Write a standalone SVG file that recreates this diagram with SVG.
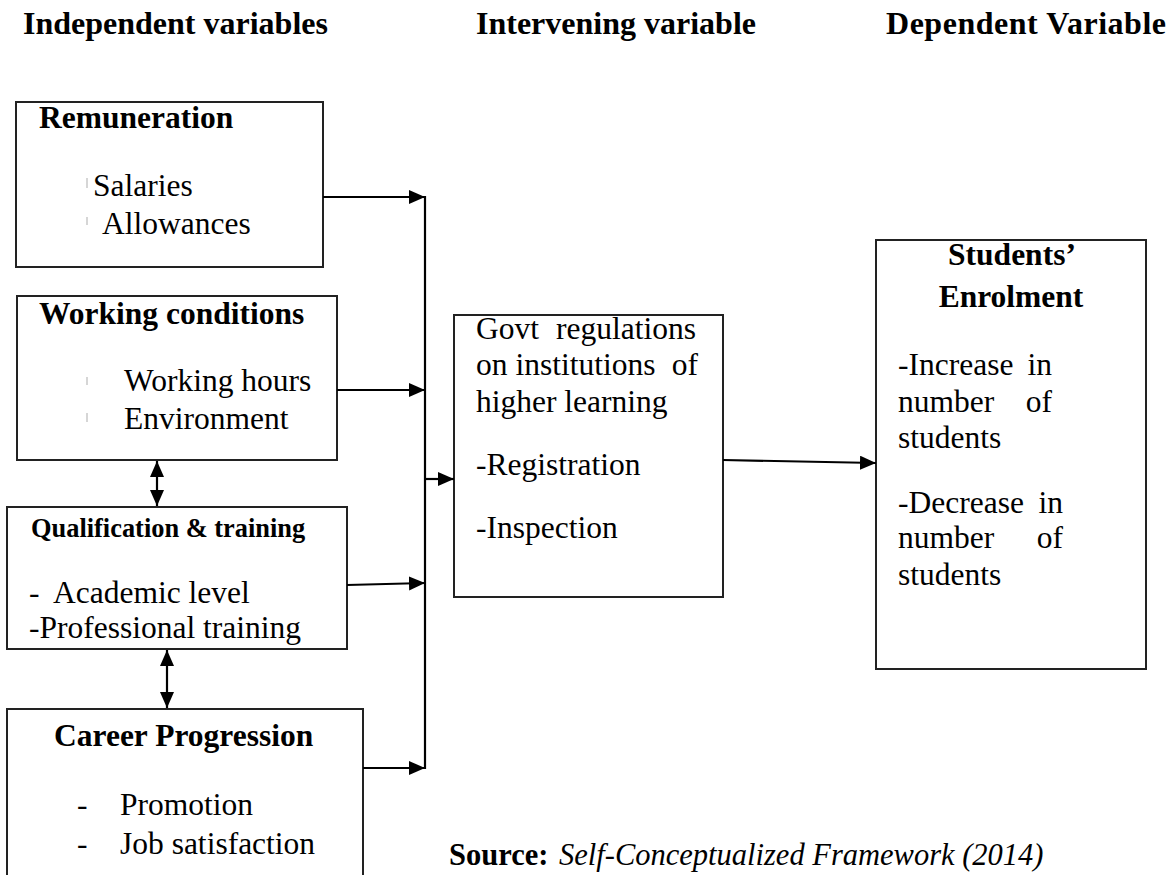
<svg xmlns="http://www.w3.org/2000/svg" width="1173" height="875" viewBox="0 0 1173 875">
<style>
text{font-family:"Liberation Serif","Times New Roman",serif;fill:#000;font-size:31.5px}
.b{font-weight:bold}
.h{font-weight:bold;font-size:32px}
.i{font-style:italic}
.box{fill:#fff;stroke:#222;stroke-width:2}
.c{stroke:#000;stroke-width:2.2;fill:none}
.tick{stroke:#c8c8c8;stroke-width:1.5}
</style>
<defs>
<marker id="ah" markerUnits="userSpaceOnUse" markerWidth="18" markerHeight="16" refX="16" refY="7" orient="auto-start-reverse">
<path d="M0,0 L16,7 L0,14 z" fill="#000"/>
</marker>
</defs>
<g id="headers">
<text class="h" x="23" y="34">Independent variables</text>
<text class="h" x="476" y="34">Intervening variable</text>
<text class="h" x="886" y="34" textLength="280">Dependent Variable</text>
</g>
<g id="remuneration">
<rect class="box" x="16" y="102" width="307" height="165"/>
<text class="b" x="39" y="128">Remuneration</text>
<line class="tick" x1="87" y1="178" x2="87" y2="188"/>
<line class="tick" x1="87" y1="217" x2="87" y2="225"/>
<text x="93" y="196">Salaries</text>
<text x="102" y="234">Allowances</text>
</g>
<g id="working-conditions">
<rect class="box" x="17" y="296" width="320" height="164"/>
<text class="b" x="39" y="324">Working conditions</text>
<line class="tick" x1="87" y1="377" x2="87" y2="385"/>
<line class="tick" x1="87" y1="413" x2="87" y2="422"/>
<text x="124" y="391">Working hours</text>
<text x="124" y="429">Environment</text>
</g>
<g id="qualification">
<rect class="box" x="7" y="507" width="340" height="142"/>
<text class="b" x="31" y="537" style="font-size:26.4px">Qualification &amp; training</text>
<text x="29" y="603">-</text>
<text x="53" y="603">Academic level</text>
<text x="29" y="638">-Professional training</text>
</g>
<g id="career">
<rect class="box" x="7" y="709" width="356" height="180"/>
<text class="b" x="54" y="746">Career Progression</text>
<text x="77" y="815">-</text>
<text x="120" y="815">Promotion</text>
<text x="77" y="854">-</text>
<text x="120" y="854">Job satisfaction</text>
</g>
<g id="govt">
<rect class="box" x="454" y="315" width="269" height="282"/>
<text x="476" y="339">Govt</text>
<text x="696" y="339" text-anchor="end">regulations</text>
<text x="476" y="375">on institutions</text>
<text x="698" y="375" text-anchor="end">of</text>
<text x="476" y="412">higher learning</text>
<text x="476" y="475">-Registration</text>
<text x="476" y="538">-Inspection</text>
</g>
<g id="enrolment">
<rect class="box" x="876" y="240" width="270" height="429"/>
<text class="b" x="1012" y="265" text-anchor="middle">Students’</text>
<text class="b" x="1011" y="307" text-anchor="middle">Enrolment</text>
<text x="898" y="375">-Increase</text>
<text x="1052" y="375" text-anchor="end">in</text>
<text x="898" y="412">number</text>
<text x="1052" y="412" text-anchor="end">of</text>
<text x="898" y="448">students</text>
<text x="898" y="513">-Decrease</text>
<text x="1063" y="513" text-anchor="end">in</text>
<text x="898" y="548">number</text>
<text x="1063" y="548" text-anchor="end">of</text>
<text x="898" y="585">students</text>
</g>
<g id="source">
<text x="449" y="865" style="font-size:30.5px"><tspan class="b">Source:</tspan> <tspan class="i" x="559">Self-Conceptualized Framework (2014)</tspan></text>
</g>
<g id="connectors">
<line class="c" x1="425" y1="196" x2="425" y2="769"/>
<line class="c" x1="323" y1="197" x2="425" y2="197" marker-end="url(#ah)"/>
<line class="c" x1="337" y1="390" x2="425" y2="390" marker-end="url(#ah)"/>
<line class="c" x1="347" y1="585" x2="425" y2="583" marker-end="url(#ah)"/>
<line class="c" x1="363" y1="768" x2="425" y2="768" marker-end="url(#ah)"/>
<line class="c" x1="425" y1="479" x2="454" y2="479" marker-end="url(#ah)"/>
<line class="c" x1="723" y1="460" x2="876" y2="463" marker-end="url(#ah)"/>
<line class="c" x1="157" y1="461" x2="157" y2="506" marker-start="url(#ah)" marker-end="url(#ah)"/>
<line class="c" x1="167" y1="650" x2="167" y2="708" marker-start="url(#ah)" marker-end="url(#ah)"/>
</g>
</svg>
